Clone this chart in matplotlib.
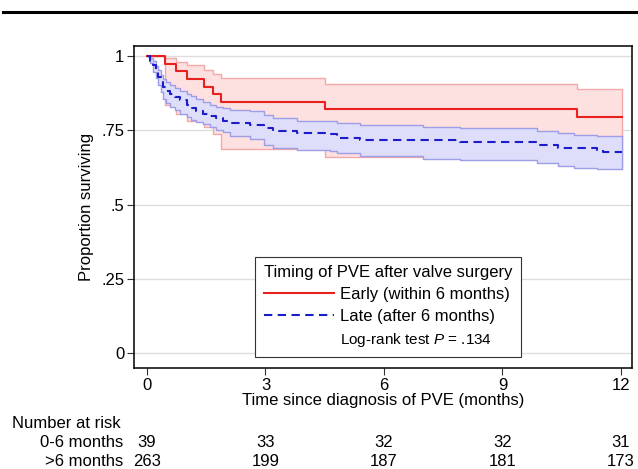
import numpy as np
import matplotlib
matplotlib.use("Agg")
from matplotlib import pyplot as plt
from matplotlib.lines import Line2D

plt.rcParams['font.family'] = ['Liberation Sans', 'DejaVu Sans']
plt.rcParams['mathtext.fontset'] = 'custom'
plt.rcParams['mathtext.rm'] = 'Liberation Sans'
plt.rcParams['mathtext.it'] = 'Liberation Sans:italic'

# Early group (within 6 months): step start times, KM estimate, 95% CI
early_t = [0, 0.45, 0.74, 1.0, 1.44, 1.66, 1.88, 4.51, 10.88]
early_s = [1, 0.974, 0.949, 0.923, 0.897, 0.872, 0.846, 0.821, 0.795]
early_hi = [1, 0.995, 0.980, 0.969, 0.952, 0.940, 0.926, 0.907, 0.888]
early_lo = [1, 0.834, 0.805, 0.78, 0.76, 0.738, 0.688, 0.66, 0.63]
early_end = 12.03

# Late group (after 6 months)
late_t = [0, 0.08, 0.15, 0.22, 0.28, 0.35, 0.41, 0.49, 0.57, 0.7, 0.83, 1.0,
          1.12, 1.25, 1.42, 1.59, 1.75, 1.92, 2.1, 2.6, 2.95, 3.2, 3.79, 4.63,
          4.8, 5.39, 7.0, 7.92, 9.87, 10.4, 10.8, 11.4, 11.55]
late_s = [1, 0.985, 0.969, 0.95, 0.929, 0.912, 0.896, 0.884, 0.873, 0.862,
          0.851, 0.834, 0.824, 0.814, 0.806, 0.798, 0.79, 0.783, 0.775, 0.768,
          0.757, 0.749, 0.742, 0.737, 0.725, 0.717, 0.717, 0.712, 0.70, 0.689,
          0.689, 0.684, 0.678]
late_hi = [1, 0.993, 0.982, 0.967, 0.952, 0.937, 0.924, 0.912, 0.901, 0.892,
           0.884, 0.873, 0.864, 0.856, 0.846, 0.836, 0.83, 0.825, 0.818, 0.815,
           0.80, 0.79, 0.782, 0.78, 0.773, 0.768, 0.762, 0.757, 0.747, 0.74,
           0.734, 0.731, 0.731]
late_lo = [1, 0.975, 0.946, 0.925, 0.901, 0.878, 0.856, 0.842, 0.828, 0.817,
           0.806, 0.795, 0.786, 0.778, 0.77, 0.761, 0.752, 0.744, 0.73, 0.72,
           0.70, 0.689, 0.684, 0.68, 0.674, 0.663, 0.655, 0.65, 0.639, 0.63,
           0.622, 0.62, 0.62]
late_end = 12.03

# Number at risk
risk_t = [0, 3, 6, 9, 12]
early_risk = [39, 33, 32, 32, 31]
late_risk = [263, 199, 187, 181, 173]

FS = 12

fig = plt.figure(figsize=(6.38, 4.69), dpi=100)
ax = fig.add_axes([0.210, 0.2154, 0.7806, 0.6866])

# top rule
fig.add_artist(Line2D([0.005, 1.0], [0.974, 0.974], color='black', lw=2.2,
                      transform=fig.transFigure))


def ext(t, v, end):
    return np.append(t, end), np.append(v, v[-1])


# early CI band
t, hi = ext(early_t, early_hi, early_end)
_, lo = ext(early_t, early_lo, early_end)
ax.fill_between(t, lo, hi, step='post', color='#fde0e0', lw=0, zorder=2)
ax.step(t, hi, where='post', color='#f3a9a9', lw=1, zorder=2.1)
ax.step(t, lo, where='post', color='#f3a9a9', lw=1, zorder=2.1)
ax.vlines(early_end, lo[-1], hi[-1], color='#f3a9a9', lw=1, zorder=2.1)

# late CI band
t, hi = ext(late_t, late_hi, late_end)
_, lo = ext(late_t, late_lo, late_end)
ax.fill_between(t, lo, hi, step='post', color='#dedefa', lw=0, zorder=3)
ax.step(t, hi, where='post', color='#9d9de8', lw=1, zorder=3.1)
ax.step(t, lo, where='post', color='#9d9de8', lw=1, zorder=3.1)
ax.vlines(late_end, lo[-1], hi[-1], color='#9d9de8', lw=1, zorder=3.1)

# survival curves
t, s = ext(early_t, early_s, early_end)
l1, = ax.step(t, s, where='post', color='#e8211e', lw=1.5, zorder=5,
              label='Early (within 6 months)')
t, s = ext(late_t, late_s, late_end)
l2, = ax.step(t, s, where='post', color='#1c1cc8', lw=1.5, zorder=5,
              dashes=(4, 2.6), label='Late (after 6 months)')

ax.set_xlim(-0.33, 12.28)
ax.set_ylim(-0.05, 1.034)
ax.set_xticks(risk_t)
ax.set_yticks([0, 0.25, 0.5, 0.75, 1])
ax.set_yticklabels(['0', '.25', '.5', '.75', '1'])
ax.yaxis.grid(True, color='#dddddd', lw=1)
ax.set_axisbelow(True)
ax.tick_params(labelsize=FS, length=5, width=0.8, color='#333333', pad=2)
ax.set_xlabel('Time since diagnosis of PVE (months)', fontsize=FS, labelpad=0)
ax.set_ylabel('Proportion surviving', fontsize=FS, labelpad=5)
for sp in ax.spines.values():
    sp.set_linewidth(1.1)

blank = Line2D([], [], color='none')
leg = ax.legend([l1, l2, blank],
                ['Early (within 6 months)', 'Late (after 6 months)',
                 r'Log-rank test $\mathit{P}$ = .134'],
                title='Timing of PVE after valve surgery',
                loc='upper left', bbox_to_anchor=(0.227, 0.372),
                fontsize=FS, title_fontsize=FS, handlelength=4.2,
                handletextpad=0.4, labelspacing=0.42, borderpad=0.5,
                fancybox=False, framealpha=1, edgecolor='#333333')
leg._legend_box.align = 'left'
leg.get_frame().set_linewidth(0.8)
leg.get_texts()[2].set_fontsize(11)
leg.set_zorder(10)

# number at risk table
xt = ax.get_xaxis_transform()
ax.text(-0.245, -0.171, 'Number at risk', transform=ax.transAxes,
        fontsize=FS, ha='left', va='center')
ax.text(-0.022, -0.23, '0-6 months', transform=ax.transAxes,
        fontsize=FS, ha='right', va='center')
ax.text(-0.022, -0.289, '>6 months', transform=ax.transAxes,
        fontsize=FS, ha='right', va='center')
for x, a, b in zip(risk_t, early_risk, late_risk):
    ax.text(x, -0.23, str(a), transform=xt, fontsize=FS, ha='center', va='center')
    ax.text(x, -0.289, str(b), transform=xt, fontsize=FS, ha='center', va='center')

fig.savefig('out.png', dpi=100)
